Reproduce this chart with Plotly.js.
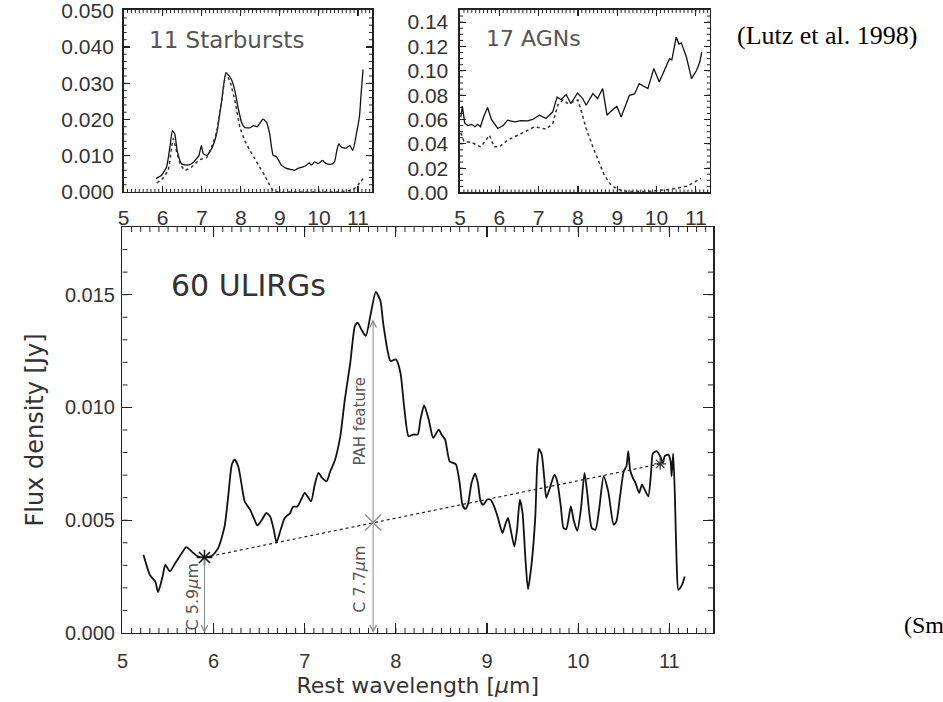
<!DOCTYPE html>
<html>
<head>
<meta charset="utf-8">
<script src="https://cdn.plot.ly/plotly-3.0.1.min.js"></script>
<style>html,body{margin:0;padding:0;background:#fff;}#chart{width:943px;height:702px;}</style>
</head>
<body>
<div id="chart"></div>
<script>
// ---- 60 ULIRGs mean spectrum ----
const ulirgX = [5.23,5.30,5.36,5.39,5.44,5.47,5.52,5.58,5.65,5.70,5.76,5.83,5.90,5.98,6.05,6.12,6.16,6.20,6.23,6.27,6.31,6.34,6.40,6.44,6.48,6.53,6.58,6.62,6.66,6.69,6.73,6.78,6.84,6.87,6.92,6.96,7.00,7.03,7.07,7.11,7.15,7.19,7.24,7.28,7.33,7.39,7.44,7.50,7.55,7.58,7.62,7.67,7.72,7.78,7.83,7.86,7.91,7.94,8.00,8.05,8.09,8.14,8.19,8.24,8.27,8.31,8.36,8.41,8.47,8.50,8.54,8.59,8.63,8.66,8.70,8.73,8.76,8.79,8.83,8.87,8.90,8.93,8.96,9.00,9.04,9.07,9.11,9.14,9.17,9.20,9.23,9.26,9.30,9.33,9.36,9.39,9.42,9.45,9.49,9.53,9.55,9.57,9.60,9.63,9.65,9.69,9.74,9.77,9.81,9.84,9.87,9.92,9.95,9.99,10.03,10.07,10.10,10.15,10.19,10.23,10.28,10.33,10.39,10.42,10.46,10.50,10.53,10.55,10.57,10.60,10.63,10.67,10.70,10.73,10.77,10.80,10.82,10.86,10.90,10.93,10.95,10.99,11.015,11.026,11.043,11.062,11.081,11.10,11.14,11.17];
const ulirgY = [0.00347,0.00258,0.00228,0.00181,0.0025,0.00302,0.00273,0.0031,0.00354,0.00381,0.00361,0.00339,0.00335,0.00342,0.00376,0.00472,0.00606,0.00747,0.00769,0.00739,0.0065,0.00584,0.00547,0.0051,0.00477,0.00502,0.00532,0.00517,0.00458,0.00401,0.0045,0.0051,0.00532,0.00559,0.00561,0.00591,0.00621,0.00606,0.00584,0.00658,0.0071,0.00688,0.00673,0.00717,0.00765,0.00872,0.01036,0.01199,0.01361,0.01376,0.01347,0.01317,0.01406,0.01512,0.01473,0.01376,0.0125,0.01206,0.01213,0.01154,0.01006,0.00872,0.0088,0.0088,0.00947,0.01009,0.00947,0.00865,0.00902,0.0088,0.00858,0.00761,0.00754,0.00747,0.00665,0.00569,0.0055,0.00569,0.00665,0.00707,0.00665,0.00584,0.00569,0.00591,0.00591,0.00569,0.00524,0.0048,0.00443,0.0048,0.0051,0.00458,0.00384,0.00458,0.00591,0.00532,0.00339,0.00194,0.0031,0.00517,0.00739,0.00816,0.00791,0.0068,0.00599,0.00643,0.00702,0.00673,0.00561,0.00465,0.00461,0.00561,0.00502,0.00453,0.00547,0.0071,0.00621,0.00465,0.00458,0.00547,0.00695,0.00628,0.0048,0.00495,0.00606,0.00717,0.00739,0.00806,0.00724,0.00688,0.00665,0.00621,0.00658,0.00636,0.00606,0.0071,0.00796,0.00806,0.00784,0.00754,0.00784,0.00791,0.00761,0.00695,0.00796,0.00606,0.0031,0.00191,0.00213,0.0025];

// continuum anchor points and PAH peak
const contX = [5.9, 10.9];
const contY = [0.00335, 0.0075];
const pahX = 7.75;
const pahContY = 0.0049;
const pahTopY = 0.0139;

// ---- 11 Starbursts ----
const sbX = [5.83,5.97,6.10,6.185,6.25,6.31,6.37,6.48,6.61,6.74,6.87,6.93,6.99,7.04,7.13,7.25,7.38,7.51,7.62,7.70,7.76,7.85,7.93,8.02,8.10,8.23,8.33,8.42,8.57,8.66,8.74,8.83,8.91,9.04,9.17,9.29,9.38,9.46,9.59,9.68,9.75,9.81,9.89,9.98,10.09,10.19,10.32,10.40,10.46,10.51,10.57,10.70,10.79,10.87,10.96,11.04,11.08,11.13];
const sbY = [0.0037,0.0046,0.0069,0.0124,0.0169,0.016,0.0115,0.0078,0.0074,0.0078,0.0092,0.0101,0.0128,0.0106,0.0101,0.0119,0.016,0.0251,0.0329,0.032,0.031,0.0279,0.0233,0.0192,0.0178,0.0177,0.0183,0.018,0.0201,0.0192,0.016,0.0101,0.0098,0.0074,0.0065,0.0062,0.006,0.0065,0.0069,0.0074,0.008,0.0074,0.0083,0.0078,0.0087,0.0078,0.0077,0.0083,0.0115,0.0133,0.0124,0.0121,0.0128,0.0115,0.016,0.021,0.027,0.0338];
const sbDotX = [5.85,5.98,6.14,6.23,6.27,6.34,6.45,6.57,6.74,6.95,7.13,7.25,7.38,7.51,7.62,7.72,7.85,7.98,8.10,8.23,8.36,8.48,8.61,8.74,8.83,8.95,9.5,10.0,10.5,10.87,11.0,11.13];
const sbDotY = [0.0025,0.0035,0.006,0.0124,0.0147,0.0119,0.0078,0.006,0.0069,0.0089,0.0096,0.0124,0.0165,0.0251,0.0324,0.0306,0.0251,0.0178,0.0142,0.0115,0.0092,0.0069,0.0046,0.0019,0.0004,0.0,0.0,0.0,0.0,0.0006,0.0019,0.0037];

// ---- 17 AGNs ----
const agnX = [5.02,5.06,5.12,5.2,5.3,5.38,5.45,5.52,5.6,5.70,5.8,5.96,6.1,6.21,6.4,6.55,6.72,6.85,7.02,7.19,7.36,7.47,7.57,7.70,7.82,7.99,8.12,8.21,8.38,8.50,8.63,8.74,8.84,8.99,9.10,9.31,9.44,9.56,9.78,9.93,10.07,10.20,10.33,10.39,10.50,10.57,10.63,10.76,10.89,11.02,11.10,11.15];
const agnY = [0.062,0.071,0.057,0.055,0.056,0.054,0.056,0.054,0.062,0.0698,0.06,0.0526,0.055,0.0594,0.058,0.059,0.0589,0.06,0.0635,0.0608,0.0663,0.0785,0.0762,0.0805,0.0731,0.0818,0.0772,0.0717,0.0813,0.0772,0.0854,0.0635,0.0667,0.0709,0.0621,0.0799,0.081,0.0895,0.0854,0.1018,0.0908,0.1004,0.11,0.109,0.1277,0.122,0.123,0.1113,0.0936,0.1004,0.1072,0.1154];
const agnDotX = [5.02,5.1,5.3,5.53,5.75,5.87,6.0,6.21,6.56,6.90,7.19,7.36,7.49,7.62,7.75,8.0,8.08,8.21,8.38,8.55,8.67,8.84,9.01,9.26,9.77,10.36,10.79,11.13];
const agnDotY = [0.049,0.042,0.041,0.0375,0.047,0.0375,0.0375,0.043,0.0485,0.054,0.052,0.0567,0.072,0.076,0.073,0.076,0.0676,0.0526,0.0375,0.024,0.0143,0.0061,0.0026,0.0008,0.0008,0.0026,0.0053,0.0116];

// tick labels
const xTicks = [5, 6, 7, 8, 9, 10, 11];
const mainYTicks = [0, 0.005, 0.010, 0.015];
const sbYTicks = [0, 0.01, 0.02, 0.03, 0.04, 0.05];
const agnYTicks = [0, 0.02, 0.04, 0.06, 0.08, 0.10, 0.12, 0.14];

// minor tick positions
function steps(lo, hi, step) {
  const out = [];
  const n = Math.round((hi - lo) / step);
  for (let i = 0; i <= n; i++) out.push(+(lo + i * step).toFixed(6));
  return out;
}

const W = 943, H = 702;
const AX = '#222';
const tickFont = {family: 'Liberation Sans, Arial, sans-serif', size: 20, color: '#333'};
const smallTickFont = {family: 'Liberation Sans, Arial, sans-serif', size: 21, color: '#333'};
const titleFont = {family: 'DejaVu Sans, sans-serif', size: 22, color: '#333'};

// panel geometry
const mainXDom = [0.1299, 0.7561], mainYDom = [0.0983, 0.6766];
const sbXDom = [0.1311, 0.3945], sbYDom = [0.7265, 0.9858];
const agnXDom = [0.4878, 0.7529], agnYDom = [0.7258, 0.9858];
const mainXRange = [5, 11.48], mainYRange = [0, 0.018];
const smallXRange = [5, 11.36], sbYRange = [0, 0.0502], agnYRange = [0, 0.15];

function axisBase(extra) {
  return Object.assign({
    showline: true, linecolor: AX, linewidth: 1.5, mirror: 'ticks',
    ticks: 'inside', tickcolor: AX, tickwidth: 1.2, tickmode: 'array',
    showgrid: false, zeroline: false, ticklabeloverflow: 'allow'
  }, extra);
}

// minor ticks: inward stubs on all four sides, length given in pixels and
// converted to data units through each panel's scale
function minorTrace(xa, ya, xRange, yRange, xDom, yDom, xVals, yVals, len) {
  const dx = len * (xRange[1] - xRange[0]) / ((xDom[1] - xDom[0]) * W);
  const dy = len * (yRange[1] - yRange[0]) / ((yDom[1] - yDom[0]) * H);
  const xs = [], ys = [];
  xVals.forEach(v => {
    xs.push(v, v, null, v, v, null);
    ys.push(yRange[0], yRange[0] + dy, null, yRange[1], yRange[1] - dy, null);
  });
  yVals.forEach(v => {
    xs.push(xRange[0], xRange[0] + dx, null, xRange[1], xRange[1] - dx, null);
    ys.push(v, v, null, v, v, null);
  });
  return {x: xs, y: ys, xaxis: xa, yaxis: ya, mode: 'lines', type: 'scatter',
    line: {color: AX, width: 1}, connectgaps: false, hoverinfo: 'skip'};
}

const traces = [
  minorTrace('x', 'y', mainXRange, mainYRange, mainXDom, mainYDom, steps(5.1, 11.4, 0.1), steps(0.001, 0.017, 0.001), 5),
  minorTrace('x2', 'y2', smallXRange, sbYRange, sbXDom, sbYDom, steps(5.1, 11.3, 0.1), steps(0.002, 0.048, 0.002), 3),
  minorTrace('x3', 'y3', smallXRange, agnYRange, agnXDom, agnYDom, steps(5.1, 11.3, 0.1), steps(0.005, 0.145, 0.005), 3),
  {x: ulirgX, y: ulirgY, xaxis: 'x', yaxis: 'y', mode: 'lines', type: 'scatter',
   line: {color: '#111', width: 1.8, shape: 'spline', smoothing: 0.6}, hoverinfo: 'skip'},
  {x: contX, y: contY, xaxis: 'x', yaxis: 'y', mode: 'lines', type: 'scatter',
   line: {color: '#222', width: 1.2, dash: 'dot'}, hoverinfo: 'skip'},
  {x: [contX[0]], y: [contY[0]], xaxis: 'x', yaxis: 'y', mode: 'markers', type: 'scatter',
   marker: {symbol: 'asterisk-open', size: 13, color: '#111', line: {color: '#111', width: 1.5}}},
  {x: [contX[1]], y: [contY[1]], xaxis: 'x', yaxis: 'y', mode: 'markers', type: 'scatter',
   marker: {symbol: 'asterisk-open', size: 10, color: '#333', line: {color: '#333', width: 1.2}}},
  {x: [pahX], y: [pahContY], xaxis: 'x', yaxis: 'y', mode: 'markers', type: 'scatter',
   marker: {symbol: 'x-thin-open', size: 16, color: '#888', line: {color: '#888', width: 1.2}}},
  {x: sbX, y: sbY, xaxis: 'x2', yaxis: 'y2', mode: 'lines', type: 'scatter',
   line: {color: '#111', width: 1.3, shape: 'spline', smoothing: 0.5}, hoverinfo: 'skip'},
  {x: sbDotX, y: sbDotY, xaxis: 'x2', yaxis: 'y2', mode: 'lines', type: 'scatter',
   line: {color: '#333', width: 1.5, dash: 'dot', shape: 'spline', smoothing: 0.5}, hoverinfo: 'skip'},
  {x: agnX, y: agnY, xaxis: 'x3', yaxis: 'y3', mode: 'lines', type: 'scatter',
   line: {color: '#111', width: 1.3}, hoverinfo: 'skip'},
  {x: agnDotX, y: agnDotY, xaxis: 'x3', yaxis: 'y3', mode: 'lines', type: 'scatter',
   line: {color: '#333', width: 1.5, dash: 'dot'}, hoverinfo: 'skip'}
];

const arrowStyle = {arrowhead: 5, arrowsize: 1.3, arrowwidth: 1, arrowcolor: '#888', showarrow: true,
  axref: 'x', ayref: 'y', xref: 'x', yref: 'y', text: ''};

const layout = {
  width: W, height: H,
  margin: {l: 0, r: 0, t: 0, b: 0},
  paper_bgcolor: '#fff', plot_bgcolor: '#fff',
  showlegend: false,
  xaxis: axisBase({domain: mainXDom, range: mainXRange, tickvals: xTicks,
    ticklen: 10, tickfont: tickFont, ticklabelstandoff: 10, anchor: 'y',
    title: {text: 'Rest wavelength [<i>μ</i>m]', font: titleFont, standoff: 6}}),
  yaxis: axisBase({domain: mainYDom, range: mainYRange, tickvals: mainYTicks, tickformat: '.3f',
    ticklen: 10, tickfont: tickFont, ticklabelstandoff: 2, anchor: 'x',
    title: {text: 'Flux density [Jy]', font: {family: 'DejaVu Sans, sans-serif', size: 24, color: '#333'}, standoff: 14}}),
  xaxis2: axisBase({domain: sbXDom, range: smallXRange, tickvals: xTicks,
    ticklen: 6, tickfont: smallTickFont, ticklabelstandoff: 6, anchor: 'y2'}),
  yaxis2: axisBase({domain: sbYDom, range: sbYRange, tickvals: sbYTicks, tickformat: '.3f',
    ticklen: 6, tickfont: smallTickFont, ticklabelstandoff: 4, anchor: 'x2'}),
  xaxis3: axisBase({domain: agnXDom, range: smallXRange, tickvals: xTicks,
    ticklen: 6, tickfont: smallTickFont, ticklabelstandoff: 6, anchor: 'y3'}),
  yaxis3: axisBase({domain: agnYDom, range: agnYRange, tickvals: agnYTicks, tickformat: '.2f',
    ticklen: 6, tickfont: smallTickFont, ticklabelstandoff: 6, anchor: 'x3'}),
  annotations: [
    Object.assign({}, arrowStyle, {x: contX[0], y: 0, ax: contX[0], ay: contY[0]}),
    Object.assign({}, arrowStyle, {x: pahX, y: 0, ax: pahX, ay: pahContY}),
    Object.assign({}, arrowStyle, {x: pahX, y: pahTopY, ax: pahX, ay: pahContY}),
    {xref: 'x', yref: 'y', x: pahX, y: 0.00938, xshift: -13, text: 'PAH feature', textangle: -90,
     showarrow: false, font: {family: 'DejaVu Sans, sans-serif', size: 15, color: '#555'}},
    {xref: 'x', yref: 'y', x: pahX, y: 0.00236, xshift: -13, text: 'C 7.7<i>μ</i>m', textangle: -90,
     showarrow: false, font: {family: 'DejaVu Sans, sans-serif', size: 16, color: '#555'}},
    {xref: 'x', yref: 'y', x: contX[0], y: 0.0016, xshift: -12, text: 'C 5.9<i>μ</i>m', textangle: -90,
     showarrow: false, font: {family: 'DejaVu Sans, sans-serif', size: 16, color: '#555'}},
    {xref: 'x', yref: 'y', x: 5.51, y: 0.01542, xanchor: 'left', yanchor: 'middle', text: '60 ULIRGs',
     showarrow: false, font: {family: 'DejaVu Sans, sans-serif', size: 30, color: '#333'}},
    {xref: 'x2', yref: 'y2', x: 5.6, y: 0.0418, xanchor: 'left', yanchor: 'middle', text: '11 Starbursts',
     showarrow: false, font: {family: 'DejaVu Sans, sans-serif', size: 23, color: '#555'}},
    {xref: 'x3', yref: 'y3', x: 5.61, y: 0.1266, xanchor: 'left', yanchor: 'middle', text: '17 AGNs',
     showarrow: false, font: {family: 'DejaVu Sans, sans-serif', size: 22, color: '#555'}},
    {xref: 'paper', yref: 'paper', x: 0.877, y: 0.950, xanchor: 'center', yanchor: 'middle',
     text: '(Lutz et al. 1998)', showarrow: false,
     font: {family: 'Liberation Serif, Times New Roman, serif', size: 26, color: '#000'}},
    {xref: 'paper', yref: 'paper', x: 0.9565, y: 0.1097, xanchor: 'left', yanchor: 'middle',
     text: '(Sm', showarrow: false,
     font: {family: 'Liberation Serif, Times New Roman, serif', size: 24, color: '#000'}}
  ]
};

Plotly.newPlot('chart', traces, layout, {staticPlot: true, displayModeBar: false});
</script>
</body>
</html>
